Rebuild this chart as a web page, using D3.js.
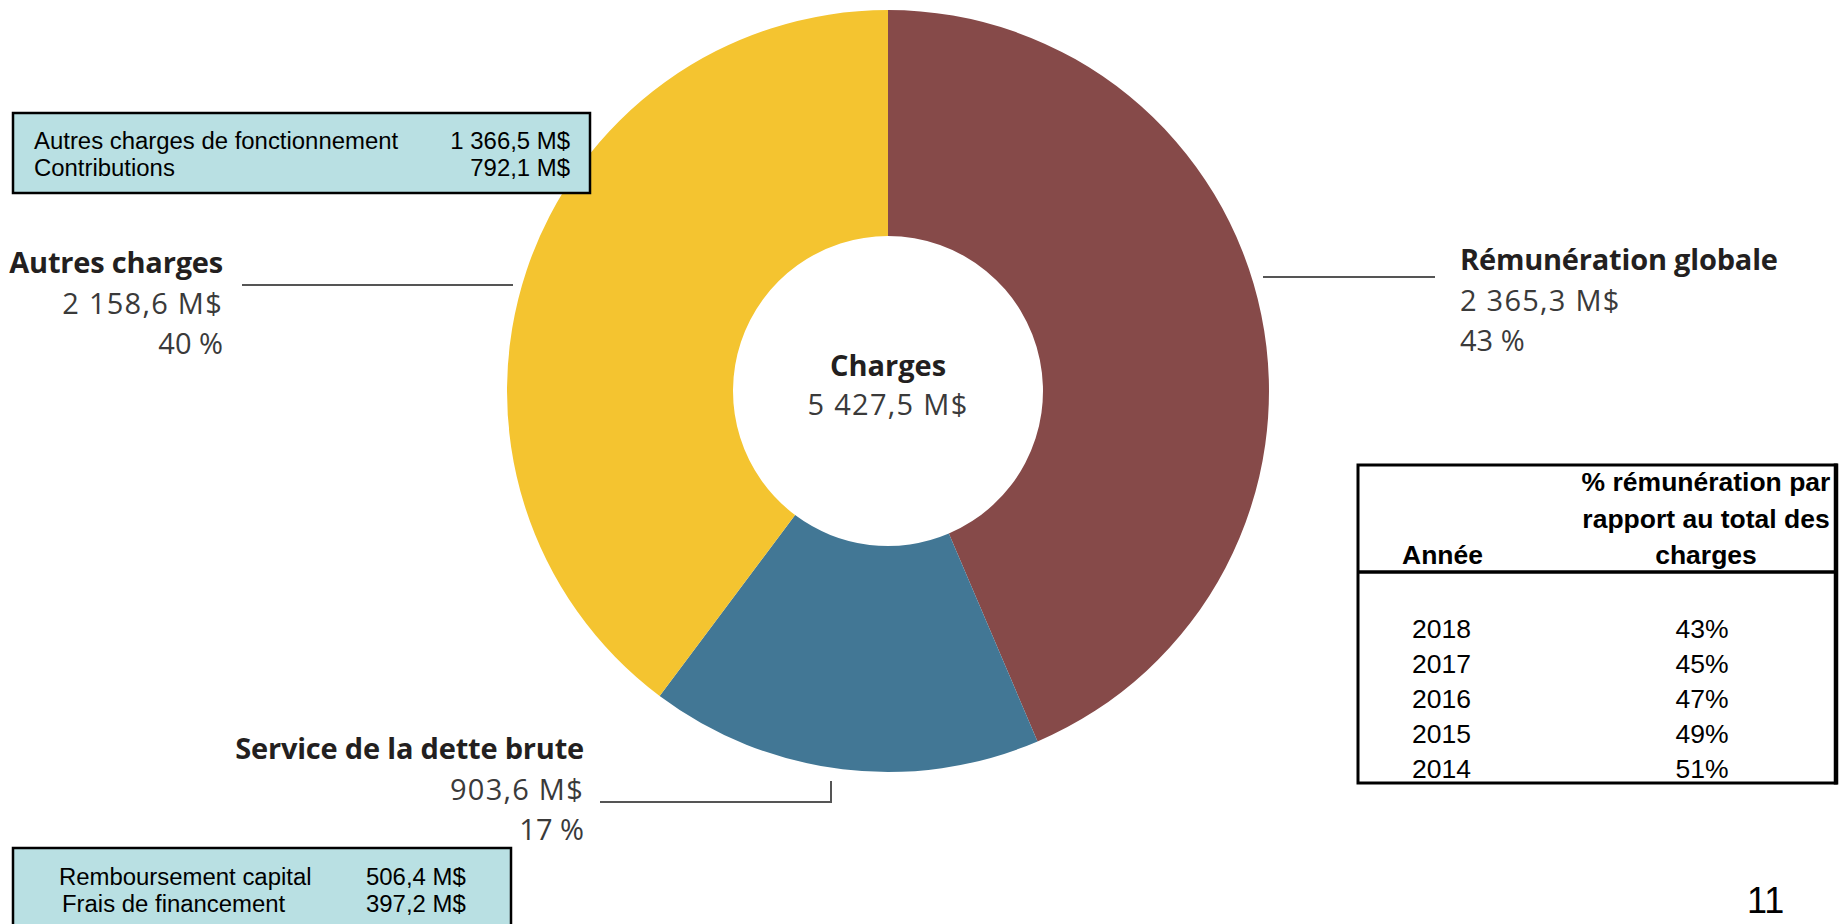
<!DOCTYPE html>
<html lang="fr">
<head>
<meta charset="utf-8">
<script src="https://cdn.jsdelivr.net/npm/d3@7"></script>
<style>
  html, body { margin: 0; padding: 0; background: #ffffff; }
  svg { display: block; }
</style>
</head>
<body>
<svg id="chart" width="1845" height="924"></svg>
<script>
// Répartition des charges
const categories = ["Rémunération globale", "Service de la dette brute", "Autres charges"];
const values = [2365.3, 903.6, 2158.6];
const percentLabels = ["43 %", "17 %", "40 %"];
const sliceColors = ["#864a49", "#427795", "#f4c430"];

const centerTitle = "Charges";

// Détail des autres charges
const autresLabels = ["Autres charges de fonctionnement", "Contributions"];
const autresValues = [1366.5, 792.1];

// Détail du service de la dette
const detteLabels = ["Remboursement capital", "Frais de financement"];
const detteValues = [506.4, 397.2];

// Tableau historique
const tableHeader = ["% rémunération par", "rapport au total des", "charges"];
const tableYearHeader = "Année";
const years = ["2018", "2017", "2016", "2015", "2014"];
const remunShare = [43, 45, 47, 49, 51];

const pageNumber = "11";

const fr = d3.formatLocale({ decimal: ",", thousands: "\u00a0", grouping: [3], currency: ["", ""] });
const fmt = fr.format(",.1f");
const money = v => fmt(v) + "\u00a0M$";

const svg = d3.select("#chart");
const labelFont = "'Open Sans', 'Noto Sans', sans-serif";
const arialFont = "'Liberation Sans', Arial, sans-serif";
const titleColor = "#231f20";
const valueColor = "#3a3a3a";

// ---- donut ----
const cx = 888, cy = 391, rOuter = 381, rInner = 155;
const pie = d3.pie().sort(null).value(d => d)(values);
const arc = d3.arc().innerRadius(rInner).outerRadius(rOuter);

const donut = svg.append("g").attr("transform", `translate(${cx},${cy})`);
donut.selectAll("path")
  .data(pie)
  .join("path")
  .attr("d", arc)
  .attr("fill", (d, i) => sliceColors[i]);

const total = d3.sum(values);
donut.append("text")
  .attr("text-anchor", "middle").attr("y", -15)
  .attr("font-family", labelFont).attr("font-weight", 700)
  .attr("font-size", 29).attr("fill", titleColor)
  .text(centerTitle);
donut.append("text")
  .attr("text-anchor", "middle").attr("y", 24)
  .attr("font-family", labelFont).attr("font-size", 29)
  .attr("letter-spacing", 1.3)
  .attr("fill", valueColor)
  .text(money(total));

// ---- slice labels ----
const labelPos = [
  { x: 1460, y: 270, anchor: "start" },
  { x: 584, y: 759, anchor: "end" },
  { x: 223, y: 273, anchor: "end" }
];
const lineStep = 40.5;

categories.forEach((name, i) => {
  const p = labelPos[i];
  const g = svg.append("g").attr("transform", `translate(${p.x},${p.y})`)
    .attr("text-anchor", p.anchor).attr("font-family", labelFont).attr("font-size", 29);
  g.append("text").attr("font-weight", 700).attr("fill", titleColor)
    .attr("letter-spacing", -0.2).text(name);
  g.append("text").attr("y", lineStep).attr("fill", valueColor)
    .attr("letter-spacing", 1.25).text(money(values[i]));
  g.append("text").attr("y", lineStep * 2).attr("fill", valueColor).text(percentLabels[i]);
});

// leader lines
const leaders = [
  [[1263, 277], [1435, 277]],
  [[600, 802], [831, 802], [831, 781]],
  [[242, 285], [513, 285]]
];
svg.append("g").selectAll("path")
  .data(leaders)
  .join("path")
  .attr("d", d3.line())
  .attr("fill", "none").attr("stroke", "#555555").attr("stroke-width", 2);

// ---- detail boxes ----
function detailBox(box, labels, vals, opts) {
  const g = svg.append("g");
  g.append("rect")
    .attr("x", box.x).attr("y", box.y).attr("width", box.w).attr("height", box.h)
    .attr("fill", "#b9e0e3").attr("stroke", "#000").attr("stroke-width", 2.5);
  labels.forEach((lab, i) => {
    const y = opts.y0 + i * opts.dy;
    g.append("text")
      .attr("transform", `translate(${opts.labelX[i]},${y}) scale(${opts.sx},1)`)
      .attr("font-family", arialFont).attr("font-size", opts.fs).attr("fill", "#000")
      .text(lab);
    g.append("text")
      .attr("transform", `translate(${opts.valueX},${y}) scale(${opts.sx},1)`)
      .attr("text-anchor", opts.valueAnchor)
      .attr("font-family", arialFont).attr("font-size", opts.fs).attr("fill", "#000")
      .text(money(vals[i]));
  });
}

detailBox({ x: 13, y: 113, w: 577, h: 80 }, autresLabels, autresValues,
  { y0: 149, dy: 27, labelX: [34, 34], valueX: 570, valueAnchor: "end", fs: 23, sx: 1.04 });
detailBox({ x: 13, y: 848, w: 498, h: 100 }, detteLabels, detteValues,
  { y0: 885, dy: 27, labelX: [59, 62], valueX: 366, valueAnchor: "start", fs: 23, sx: 1.04 });

// ---- table ----
const tblLeft = 1358, tblRight = 1836, tblTop = 465, tblBottom = 783;
const tbl = svg.append("g");
tbl.append("rect")
  .attr("x", tblLeft).attr("y", tblTop)
  .attr("width", tblRight - tblLeft).attr("height", tblBottom - tblTop)
  .attr("fill", "#fff").attr("stroke", "#000").attr("stroke-width", 3);
tbl.append("line")
  .attr("x1", tblRight).attr("x2", tblRight).attr("y1", tblTop - 1.5).attr("y2", tblBottom + 1.5)
  .attr("stroke", "#000").attr("stroke-width", 4.5);
tbl.append("line")
  .attr("x1", tblLeft).attr("x2", tblRight).attr("y1", 572).attr("y2", 572)
  .attr("stroke", "#000").attr("stroke-width", 3.5);

const hsx = 1.06;
tableHeader.forEach((t, i) => {
  tbl.append("text")
    .attr("transform", `translate(1706,${491 + i * 36.5}) scale(${hsx},1)`)
    .attr("text-anchor", "middle")
    .attr("font-family", arialFont).attr("font-weight", 700).attr("font-size", 25)
    .text(t);
});
tbl.append("text")
  .attr("transform", `translate(1402,564) scale(${hsx},1)`)
  .attr("font-family", arialFont).attr("font-weight", 700).attr("font-size", 25)
  .text(tableYearHeader);

const rsx = 1.04;
const rowY = d3.scalePoint().domain(years).range([638, 778]);
const pctFmt = v => v + "%";
tbl.selectAll("text.year")
  .data(years)
  .join("text")
  .attr("class", "year")
  .attr("transform", d => `translate(1412,${rowY(d)}) scale(${rsx},1)`)
  .attr("font-family", arialFont).attr("font-size", 25.5)
  .text(d => d);
tbl.selectAll("text.share")
  .data(remunShare)
  .join("text")
  .attr("class", "share")
  .attr("transform", (d, i) => `translate(1702,${rowY(years[i])}) scale(${rsx},1)`)
  .attr("text-anchor", "middle")
  .attr("font-family", arialFont).attr("font-size", 25.5)
  .text(pctFmt);

// ---- page number ----
svg.append("text")
  .attr("x", 1747).attr("y", 913)
  .attr("font-family", arialFont).attr("font-size", 36)
  .text(pageNumber);
</script>
</body>
</html>
